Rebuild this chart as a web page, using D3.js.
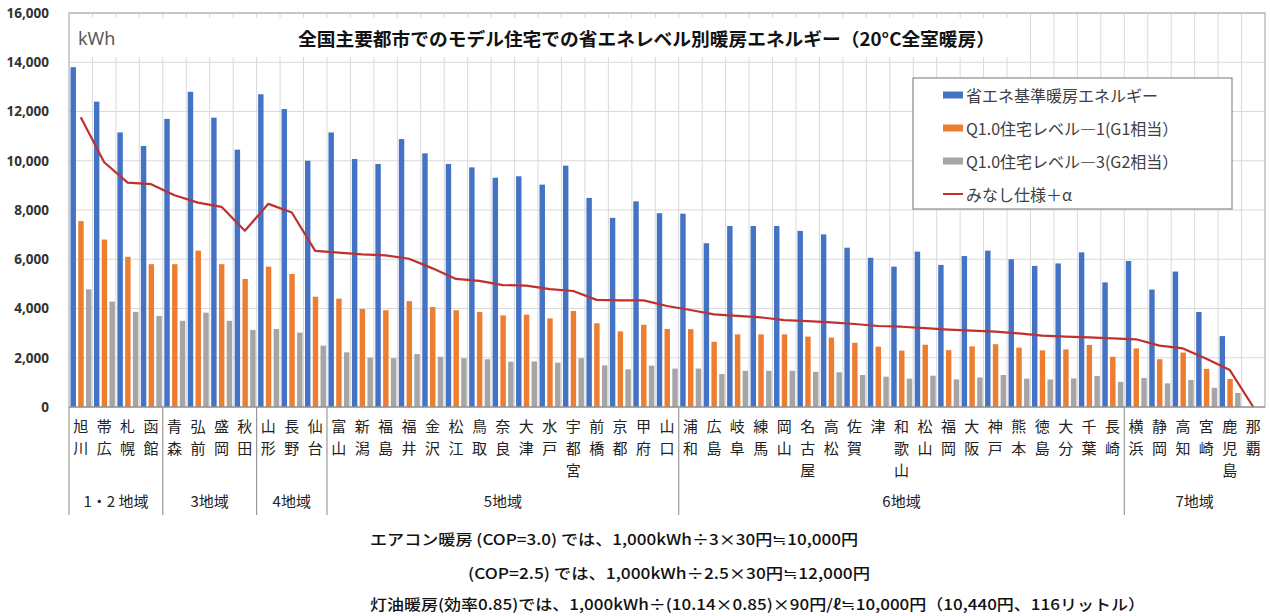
<!DOCTYPE html>
<html><head><meta charset="utf-8">
<script src="https://cdn.jsdelivr.net/npm/d3@7"></script>
<style>
body{margin:0;background:#fff;}
svg{display:block;font-family:"Noto Sans CJK JP","Noto Sans",sans-serif;}
</style></head>
<body><svg id="c" width="1270" height="616"></svg>
<script>
const categories = ["旭川","帯広","札幌","函館","青森","弘前","盛岡","秋田","山形","長野","仙台",
 "富山","新潟","福島","福井","金沢","松江","鳥取","奈良","大津","水戸","宇都宮","前橋","京都","甲府","山口",
 "浦和","広島","岐阜","練馬","岡山","名古屋","高松","佐賀","津","和歌山","松山","福岡","大阪","神戸","熊本","徳島","大分","千葉","長崎",
 "横浜","静岡","高知","宮崎","鹿児島","那覇"];
const regionNames = ["1・2 地域","3地域","4地域","5地域","6地域","7地域"];
const regionCounts = [4,4,3,15,19,6];
const seriesNames = ["省エネ基準暖房エネルギー","Q1.0住宅レベル―1(G1相当）","Q1.0住宅レベル―3(G2相当）","みなし仕様＋α"];
const standardEnergy = [13800,12400,11150,10600, 11700,12800,11750,10450, 12700,12100,10000,
 11150,10070,9870,10880,10300,9870,9730,9310,9370,9030,9800,8490,7680,8350,7870,
 7850,6650,7350,7350,7350,7150,7010,6470,6060,5700,6310,5770,6130,6350,6000,5730,5830,6280,5060,
 5930,4770,5500,3860,2880,0];
const q1Level1 = [7550,6800,6100,5800, 5800,6350,5800,5200, 5700,5400,4480,
 4400,3980,3930,4300,4060,3930,3860,3720,3750,3600,3900,3400,3070,3340,3170,
 3160,2650,2950,2950,2950,2860,2820,2610,2450,2290,2530,2310,2460,2550,2410,2300,2340,2520,2040,
 2380,1940,2210,1550,1140,0];
const q1Level3 = [4780,4280,3860,3700, 3500,3830,3500,3130, 3170,3020,2490,
 2220,2000,1980,2150,2040,1980,1940,1840,1850,1800,1980,1690,1530,1680,1560,
 1560,1340,1470,1470,1470,1430,1410,1300,1230,1150,1270,1120,1200,1300,1150,1120,1160,1260,1020,
 1180,960,1100,780,570,0];
const minashi = [11770,9940,9110,9050, 8600,8300,8130,7160, 8250,7900,6340,
 6270,6200,6160,6020,5630,5200,5120,4950,4930,4790,4710,4350,4330,4330,4100,
 3940,3760,3700,3640,3530,3490,3440,3370,3290,3260,3200,3140,3100,3060,2990,2900,2860,2830,2790,
 2750,2490,2380,1960,1500,0];
const yTicks = [0,2000,4000,6000,8000,10000,12000,14000,16000];
const titleText = "全国主要都市でのモデル住宅での省エネレベル別暖房エネルギー（20°C全室暖房）";
const unitText = "kWh";
const noteLines = ["エアコン暖房 (COP=3.0) では、1,000kWh÷3×30円≒10,000円",
 "(COP=2.5) では、1,000kWh÷2.5×30円≒12,000円",
 "灯油暖房(効率0.85)では、1,000kWh÷(10.14×0.85)×90円/ℓ≒10,000円（10,440円、116リットル）"];

const colors = ["#4472C4","#ED7D31","#A5A5A5","#C0302F"];
const L=69, R=1265, T=13, B=407;
const svg = d3.select("#c");
const x = d3.scaleBand().domain(categories).range([L,R]).padding(0);
const bw = x.bandwidth();
const keys = ["s","a","b"];
const x1 = d3.scaleBand().domain(keys).range([1.5,bw-1]).paddingInner(0.3).paddingOuter(0);
const y = d3.scaleLinear().domain([0,16000]).range([B,T]);

// gridlines
const g = svg.append("g");
g.selectAll("line.h").data(yTicks).join("line")
 .attr("x1",L).attr("x2",R).attr("y1",d=>y(d)).attr("y2",d=>y(d))
 .attr("stroke","#d9d9d9").attr("stroke-width",1);
g.selectAll("line.v").data(categories.slice(1)).join("line")
 .attr("x1",d=>x(d)).attr("x2",d=>x(d)).attr("y1",T).attr("y2",B)
 .attr("stroke","#d9d9d9").attr("stroke-width",1);

// title backdrop
svg.append("rect").attr("x",L+1).attr("y",18).attr("width",1020-L).attr("height",39).attr("fill","#fff");

// bars
const data = categories.map((c,i)=>({c, s:standardEnergy[i], a:q1Level1[i], b:q1Level3[i]}));
const bars = svg.append("g");
keys.forEach((k,ki)=>{
 bars.selectAll("rect."+k).data(data).join("rect")
  .attr("x",d=>x(d.c)+x1(k)).attr("width",x1.bandwidth())
  .attr("y",d=>y(d[k])).attr("height",d=>y(0)-y(d[k]))
  .attr("fill",colors[ki]);
});

// line
const line = d3.line().x((d,i)=>x(categories[i])+bw/2).y(d=>y(d));
svg.append("path").datum(minashi).attr("d",line).attr("fill","none")
 .attr("stroke",colors[3]).attr("stroke-width",2.2).attr("stroke-linejoin","round");

// border & axis
svg.append("rect").attr("x",L).attr("y",T).attr("width",R-L).attr("height",B-T)
 .attr("fill","none").attr("stroke","#a0a0a0").attr("stroke-width",1);
svg.append("line").attr("x1",L).attr("x2",R).attr("y1",B).attr("y2",B).attr("stroke","#8c8c8c").attr("stroke-width",1.2);

// y axis
const ya = svg.append("g").attr("transform",`translate(49,0)`)
 .call(d3.axisLeft(y).tickValues(yTicks).tickSize(0).tickPadding(0).tickFormat(d3.format(",")));
ya.select(".domain").remove();
ya.selectAll("text").attr("font-size",13.5).attr("font-weight","bold").attr("fill","#333")
 .attr("font-family","'Noto Sans','Open Sans',sans-serif");

// title & unit
svg.append("text").attr("x",298).attr("y",38).attr("dominant-baseline","central")
 .attr("font-size",18).attr("font-weight","bold").attr("fill","#111")
 .attr("textLength",697).attr("lengthAdjust","spacingAndGlyphs").text(titleText);
svg.append("text").attr("x",78).attr("y",38).attr("dominant-baseline","central")
 .attr("font-size",18).attr("fill","#595959").attr("font-family","'Noto Sans',sans-serif").text(unitText);

// legend
const lg = svg.append("g");
lg.append("rect").attr("x",913).attr("y",78).attr("width",319).attr("height",131)
 .attr("fill","#fff").attr("stroke","#8c8c8c").attr("stroke-width",1.2);
seriesNames.forEach((n,i)=>{
 const cy = 95 + i*33;
 if(i<3) lg.append("rect").attr("x",943).attr("y",cy-3.5).attr("width",20).attr("height",7).attr("fill",colors[i]);
 else lg.append("line").attr("x1",943).attr("x2",963).attr("y1",cy).attr("y2",cy).attr("stroke",colors[3]).attr("stroke-width",2);
 lg.append("text").attr("x",966).attr("y",cy).attr("dominant-baseline","central")
  .attr("font-size",16).attr("fill","#404040").text(n);
});

// category labels (vertical stacked, one text per character)
const cl = svg.append("g");
categories.forEach(c=>{
 Array.from(c).forEach((ch,j)=>{
  cl.append("text").attr("text-anchor","middle").attr("font-size",15).attr("fill","#222")
   .attr("x",x(c)+bw/2).attr("y",425+j*22).attr("dominant-baseline","central").text(ch);
 });
});

// region separators and labels
let idx=0;
const bounds=[0];
regionCounts.forEach(n=>{idx+=n;bounds.push(idx);});
const sepIdx = bounds.slice(0,bounds.length-1);
svg.selectAll("line.sep").data(sepIdx).join("line")
 .attr("x1",d=>L+d*bw).attr("x2",d=>L+d*bw).attr("y1",B).attr("y2",515)
 .attr("stroke","#999").attr("stroke-width",1.2);
regionNames.forEach((n,i)=>{
 const x0 = L+bounds[i]*bw, x2 = L+bounds[i+1]*bw;
 svg.append("text").attr("x",(x0+x2)/2).attr("y",500).attr("text-anchor","middle")
  .attr("dominant-baseline","central").attr("font-size",15).attr("fill","#222").text(n);
});

// notes
const notePos = [[370,538,488],[468,572,402],[370,603,775]];
noteLines.forEach((s,i)=>{
 svg.append("text").attr("x",notePos[i][0]).attr("y",notePos[i][1]).attr("dominant-baseline","central")
  .attr("font-size",15).attr("fill","#111").attr("font-weight","500")
  .attr("textLength",notePos[i][2]).attr("lengthAdjust","spacingAndGlyphs").text(s);
});
</script></body></html>
